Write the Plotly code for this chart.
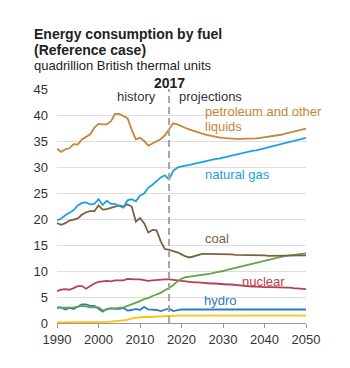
import plotly.graph_objects as go

years = list(range(1990, 2051))

petroleum = [33.5, 32.9, 33.4, 33.6, 34.4, 34.3, 35.3, 35.8, 36.3, 37.6,
             38.3, 38.2, 38.2, 38.8, 40.2, 40.2, 39.8, 39.4, 37.2, 35.3,
             35.6, 35.0, 34.1, 34.5, 34.9, 35.4, 36.1, 37.3, 38.4, 38.2,
             37.8, 37.5, 37.2, 36.9, 36.6, 36.4, 36.2, 36.0, 35.8, 35.7,
             35.6, 35.5, 35.4, 35.4, 35.4, 35.4, 35.4, 35.5, 35.5, 35.6,
             35.7, 35.8, 35.9, 36.0, 36.2, 36.4, 36.6, 36.8, 37.0, 37.2,
             37.4]

natural_gas = [19.7, 20.1, 20.7, 21.2, 21.7, 22.6, 23.1, 23.2, 22.8, 22.9,
               23.8, 22.7, 23.5, 22.9, 22.9, 22.5, 22.2, 23.6, 23.8, 23.4,
               24.5, 24.9, 26.0, 26.6, 27.3, 28.0, 28.4, 27.6, 29.2, 29.9,
               30.1, 30.2, 30.4, 30.6, 30.8, 31.0, 31.2, 31.3, 31.5, 31.6,
               31.8, 32.0, 32.1, 32.3, 32.5, 32.7, 32.9, 33.1, 33.2, 33.4,
               33.6, 33.8, 34.0, 34.2, 34.4, 34.6, 34.8, 35.0, 35.2, 35.4,
               35.6]

coal = [19.2, 18.9, 19.2, 19.7, 19.9, 20.1, 20.8, 21.3, 21.5, 21.5,
        22.6, 21.8, 21.9, 22.1, 22.4, 22.6, 22.4, 22.8, 22.4, 19.5,
        20.2, 19.2, 17.4, 17.9, 17.8, 15.7, 14.2, 14.1, 13.8, 13.6,
        13.2, 12.8, 12.6, 12.8, 13.1, 13.3, 13.3, 13.3, 13.3, 13.3,
        13.2, 13.2, 13.2, 13.1, 13.1, 13.1, 13.1, 13.0, 13.0, 13.0,
        13.0, 12.9, 12.9, 12.9, 12.9, 12.9, 12.9, 12.9, 12.9, 13.0,
        13.0]

other_renewable = [2.9, 2.9, 3.0, 3.0, 3.0, 3.1, 3.3, 3.2, 3.0, 3.0,
                   3.0, 2.4, 2.6, 2.8, 2.8, 2.9, 3.0, 3.3, 3.6, 3.8,
                   4.2, 4.6, 4.8, 5.2, 5.5, 5.8, 6.3, 6.7, 7.3, 8.0,
                   8.5, 8.8, 8.9, 9.0, 9.1, 9.2, 9.3, 9.5, 9.7, 9.8,
                   10.0, 10.2, 10.4, 10.6, 10.8, 11.0, 11.2, 11.4, 11.6, 11.8,
                   12.0, 12.2, 12.4, 12.6, 12.7, 12.9, 13.0, 13.1, 13.2, 13.3,
                   13.4]

nuclear = [6.1, 6.4, 6.5, 6.4, 6.7, 7.1, 7.1, 6.6, 7.1, 7.6,
           7.9, 8.0, 8.1, 8.0, 8.2, 8.2, 8.2, 8.5, 8.4, 8.4,
           8.4, 8.3, 8.1, 8.2, 8.3, 8.3, 8.4, 8.4, 8.3, 8.2,
           8.0, 7.9, 7.9, 7.8, 7.8, 7.7, 7.7, 7.6, 7.6, 7.5,
           7.5, 7.4, 7.4, 7.3, 7.3, 7.2, 7.1, 7.0, 7.0, 6.9,
           6.9, 6.9, 6.9, 6.9, 6.9, 6.8, 6.8, 6.7, 6.6, 6.6,
           6.5]

hydro = [3.0, 3.0, 2.6, 2.9, 2.7, 3.2, 3.6, 3.6, 3.3, 3.3,
         2.8, 2.2, 2.7, 2.8, 2.7, 2.7, 2.9, 2.4, 2.5, 2.7,
         2.5, 3.1, 2.6, 2.6, 2.5, 2.3, 2.5, 2.8, 2.3, 2.5,
         2.6, 2.6, 2.6, 2.6, 2.6, 2.6, 2.6, 2.6, 2.6, 2.6,
         2.6, 2.6, 2.6, 2.6, 2.6, 2.6, 2.6, 2.6, 2.6, 2.6,
         2.6, 2.6, 2.6, 2.6, 2.6, 2.6, 2.6, 2.6, 2.6, 2.6,
         2.6]

liquid_biofuels = [0.1, 0.1, 0.1, 0.1, 0.1, 0.1, 0.1, 0.1, 0.1, 0.1,
                   0.1, 0.15, 0.2, 0.25, 0.3, 0.35, 0.5, 0.6, 0.9, 1.0,
                   1.1, 1.2, 1.15, 1.2, 1.2, 1.25, 1.3, 1.35, 1.4, 1.4,
                   1.4, 1.4, 1.4, 1.4, 1.4, 1.4, 1.4, 1.4, 1.4, 1.4,
                   1.4, 1.4, 1.4, 1.4, 1.4, 1.4, 1.4, 1.4, 1.4, 1.4,
                   1.4, 1.4, 1.4, 1.4, 1.4, 1.4, 1.4, 1.4, 1.4, 1.4,
                   1.4]

y_ticks = [0, 5, 10, 15, 20, 25, 30, 35, 40, 45]
x_ticks = [1990, 2000, 2010, 2020, 2030, 2040, 2050]

series = [
    ("liquid biofuels", liquid_biofuels, "#FFC20E"),
    ("hydro", hydro, "#2C7BC4"),
    ("nuclear", nuclear, "#B8404E"),
    ("other renewable energy", other_renewable, "#63A645"),
    ("coal", coal, "#7A6040"),
    ("natural gas", natural_gas, "#1BA1E2"),
    ("petroleum and other liquids", petroleum, "#C8843A"),
]

FONT = "Liberation Sans, Arial, sans-serif"

fig = go.Figure()
for name, vals, col in series:
    fig.add_trace(go.Scatter(x=years, y=vals, mode="lines", name=name,
                             line=dict(color=col, width=1.8),
                             hoverinfo="skip"))

fig.add_shape(type="line", x0=2017, x1=2017, y0=0, y1=45.5, xref="x", yref="y",
              line=dict(color="#A6A6A6", width=2, dash="7px,4px"), layer="above")

ann = []
def label(text, x, y, color, xanchor="left", bold=False, size=13):
    ann.append(dict(text=("<b>%s</b>" % text) if bold else text, x=x, y=y,
                    xref="x", yref="y", xanchor=xanchor, yanchor="middle",
                    showarrow=False, font=dict(color=color, size=size, family=FONT)))

# "2017" sits just above the plot area, so it is placed in paper coordinates
ann.append(dict(text="<b>2017</b>", x=2017, y=1.026, xref="x", yref="paper",
                xanchor="center", yanchor="middle", showarrow=False,
                font=dict(color="#222222", size=14, family=FONT)))
label("history", 2014.4, 43.5, "#333333", xanchor="right")
label("projections", 2018.8, 43.5, "#333333")
label("petroleum and other", 2025.2, 40.6, "#C8843A")
label("liquids", 2025.2, 37.7, "#C8843A")
label("natural gas", 2025.2, 28.5, "#1BA1E2")
label("coal", 2025.2, 16.2, "#7A6040")
label("other renewable energy", 1989.0, 11.1, "#63A645")
label("nuclear", 2034.0, 7.9, "#B8404E")
label("hydro", 2025.0, 4.3, "#2C7BC4")
label("liquid biofuels", 1989.0, 1.0, "#FFC20E")

def ptitle(text, py, bold, size):
    ann.append(dict(text=("<b>%s</b>" % text) if bold else text, x=-0.1, y=py,
                    xref="paper", yref="paper", xanchor="left", yanchor="middle",
                    showarrow=False, font=dict(color="#222222", size=size, family=FONT)))

ptitle("Energy consumption by fuel", 1.235, True, 14)
ptitle("(Reference case)", 1.167, True, 14)
ptitle("quadrillion British thermal units", 1.099, False, 13)

fig.update_layout(
    width=350, height=368,
    margin=dict(l=57, r=44, t=89, b=45),
    paper_bgcolor="white", plot_bgcolor="white",
    showlegend=False,
    annotations=ann,
    font=dict(family=FONT, size=13, color="#333333"),
    xaxis=dict(range=[1990, 2050], tickvals=x_ticks, showgrid=False,
               showline=True, linecolor="#9A9A9A", linewidth=1,
               ticks="outside", ticklen=4, tickcolor="#9A9A9A",
               tickfont=dict(size=13, color="#333333"), zeroline=False),
    yaxis=dict(range=[0, 45], tickvals=y_ticks, showgrid=True,
               gridcolor="#DDDDDD", gridwidth=1, zeroline=False,
               showline=False, ticks="", ticklabelstandoff=8,
               tickfont=dict(size=13, color="#333333")),
)

fig.write_html("out.html")
